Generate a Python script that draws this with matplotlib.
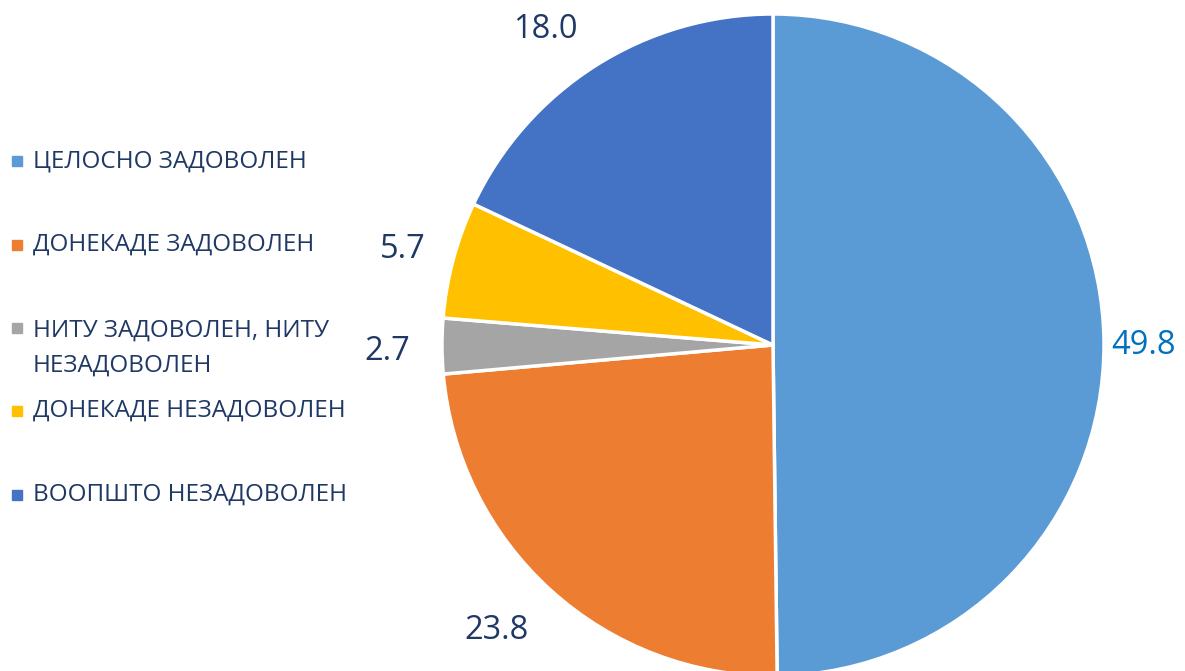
import numpy as np
import matplotlib
matplotlib.use("Agg")
from matplotlib import pyplot as plt

plt.rcParams['font.family'] = ['Open Sans', 'DejaVu Sans']

categories = ['ЦЕЛОСНО ЗАДОВОЛЕН', 'ДОНЕКАДЕ ЗАДОВОЛЕН',
              'НИТУ ЗАДОВОЛЕН, НИТУ\nНЕЗАДОВОЛЕН', 'ДОНЕКАДЕ НЕЗАДОВОЛЕН',
              'ВООПШТО НЕЗАДОВОЛЕН']
values = [49.8, 23.8, 2.7, 5.7, 18.0]
colors = ['#5B9BD5', '#ED7D31', '#A5A5A5', '#FFC000', '#4472C4']
label_colors = ['#0070C0', '#1F3864', '#1F3864', '#1F3864', '#1F3864']

W, H = 1185, 671
cx, cy, r = 773, H - 345, 331

fig = plt.figure(figsize=(W / 100, H / 100), dpi=100)
ax = fig.add_axes([0, 0, 1, 1])

wedges, _ = ax.pie(values, colors=colors, startangle=90, counterclock=False,
                   center=(cx, cy), radius=r, frame=True,
                   wedgeprops=dict(edgecolor='white', linewidth=2.5))

# data labels outside the slices (distance in radii, small angle nudge in degrees)
label_dist = [1.12, 1.2, 1.166, 1.155, 1.175]
label_nudge = [-0.4, -2.0, 0.8, 0.5, 3.5]
for w, v, c, d, n in zip(wedges, values, label_colors, label_dist, label_nudge):
    ang = np.deg2rad((w.theta1 + w.theta2) / 2 + n)
    ax.text(cx + d * r * np.cos(ang), cy + d * r * np.sin(ang), f'{v:.1f}',
            ha='center', va='center', fontsize=23.5, color=c)

ax.set_xlim(0, W)
ax.set_ylim(0, H)
ax.set_aspect('equal')
ax.axis('off')

# legend on the left, evenly spaced like the original
legend_y = [161, 245, 328, 411, 495]
for lab, col, y in zip(categories, colors, legend_y):
    ax.plot(17, H - y, marker='s', markersize=7.5, color=col, linestyle='none')
    if '\n' in lab:
        ax.text(33, H - y + 9, lab, fontsize=17.5, color='#1F3864',
                ha='left', va='top', linespacing=1.6)
    else:
        ax.text(33, H - y, lab, fontsize=17.5, color='#1F3864',
                ha='left', va='center')

fig.savefig('out.png', dpi=100)
